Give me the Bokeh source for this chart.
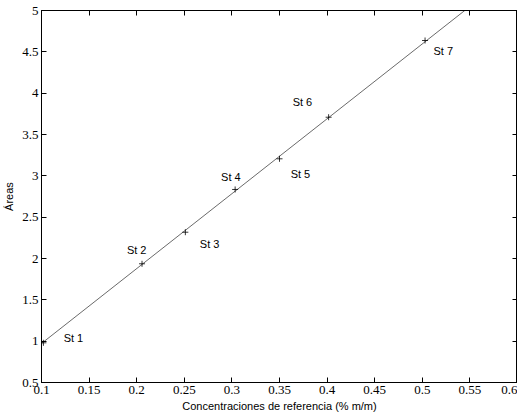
from bokeh.plotting import figure
from bokeh.models import LinearAxis, Range1d, ColumnDataSource, FixedTicker, LabelSet, CustomJSTickFormatter
from bokeh.core.properties import value
from bokeh.embed import file_html
from bokeh.resources import INLINE

# Data
conc = [0.102, 0.2056, 0.2511, 0.3034, 0.350, 0.4016, 0.5029]
areas = [0.98, 1.936, 2.318, 2.835, 3.206, 3.709, 4.637]
names = ["St 1", "St 2", "St 3", "St 4", "St 5", "St 6", "St 7"]
label_x = [0.1233, 0.1897, 0.2663, 0.2886, 0.3617, 0.3638, 0.5117]
label_y = [1.044, 2.105, 2.173, 2.99, 3.024, 3.89, 4.508]
fit_x = [0.1, 0.6]
fit_y = [0.972, 5.502]
x_ticks = [0.1, 0.15, 0.2, 0.25, 0.3, 0.35, 0.4, 0.45, 0.5, 0.55, 0.6]
y_ticks = [0.5, 1, 1.5, 2, 2.5, 3, 3.5, 4, 4.5, 5]

p = figure(width=517, height=414, output_backend="svg", toolbar_location=None,
           x_range=Range1d(0.1, 0.6), y_range=Range1d(0.5, 5.0),
           min_border_left=5, min_border_right=0, min_border_top=10, min_border_bottom=5)
p.grid.visible = False
p.outline_line_color = "black"
p.outline_line_width = 1
p.background_fill_color = "white"
p.border_fill_color = "white"

p.line(fit_x, fit_y, line_color="#444444", line_width=0.8)
p.scatter(conc, areas, marker="cross", size=6, line_color="black", line_width=0.8)

src = ColumnDataSource(dict(x=label_x, y=label_y, t=names))
p.add_layout(LabelSet(x="x", y="y", text="t", source=src, text_font=value("Liberation Sans"),
                      text_font_size=value("11px"), text_baseline="middle", text_align="left",
                      text_color="black"))

def style(ax, ticks, show_labels=True):
    ax.ticker = FixedTicker(ticks=ticks)
    ax.major_tick_in = 5
    ax.major_tick_out = 0
    ax.minor_tick_line_color = None
    ax.axis_line_color = "black"
    ax.major_tick_line_color = "black"
    ax.major_label_text_font = "Liberation Serif"
    ax.major_label_text_font_size = "13px"
    ax.major_label_text_color = "black"
    ax.major_label_standoff = 3
    if not show_labels:
        ax.formatter = CustomJSTickFormatter(code="return '';")
        ax.major_label_text_font_size = "1px"
        ax.major_label_standoff = 0

style(p.xaxis[0], x_ticks)
style(p.yaxis[0], y_ticks)
p.xaxis[0].axis_label = "Concentraciones de referencia (% m/m)"
p.yaxis[0].axis_label = "Áreas"
for ax in (p.xaxis[0], p.yaxis[0]):
    ax.axis_label_text_font = "Liberation Sans"
    ax.axis_label_text_font_size = "11px"
    ax.axis_label_text_font_style = "normal"
    ax.axis_label_text_color = "black"
    ax.axis_label_standoff = 3
p.yaxis[0].axis_label_standoff = 4

top = LinearAxis()
style(top, x_ticks, False)
p.add_layout(top, "above")
right = LinearAxis()
style(right, y_ticks, False)
p.add_layout(right, "right")

open("out.html", "w").write(file_html(p, INLINE))
